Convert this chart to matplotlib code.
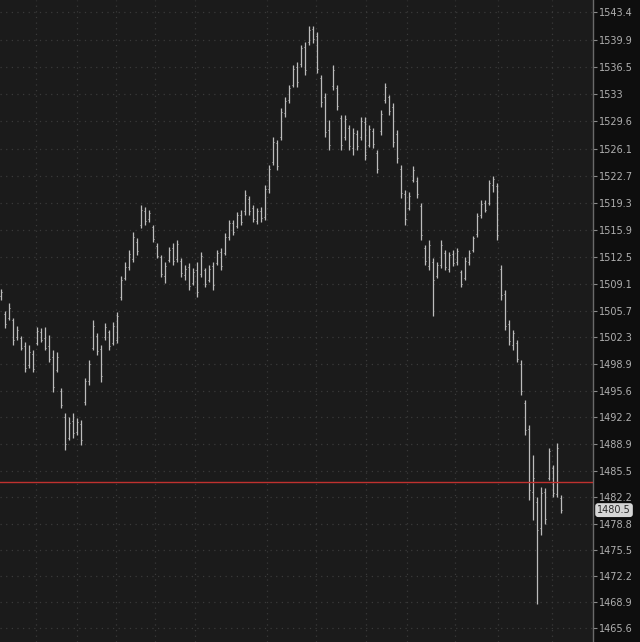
import matplotlib
matplotlib.use("Agg")
import matplotlib.pyplot as plt

# bar positions (one bar every 4 px of chart width)
bar_x = list(range(1, 562, 4))

highs = [1508.4, 1505.7, 1506.6, 1504.7, 1503.7, 1502.5, 1501.7, 1501.3, 1500.7, 1503.6,
         1503.5, 1503.6, 1502.6, 1500.7, 1500.4, 1495.9, 1492.7, 1492.2, 1492.7, 1492.1,
         1491.9, 1497.2, 1499.4, 1504.5, 1502.8, 1501.3, 1504.1, 1503.2, 1504.2, 1505.5,
         1510.0, 1511.8, 1513.3, 1515.6, 1514.8, 1519.0, 1518.8, 1518.4, 1516.5, 1514.2,
         1512.7, 1511.8, 1513.7, 1514.2, 1514.6, 1512.3, 1511.4, 1511.7, 1511.1, 1511.8,
         1513.1, 1511.1, 1511.4, 1511.8, 1513.3, 1513.6, 1515.5, 1517.1, 1517.1, 1518.1,
         1518.4, 1520.9, 1520.1, 1519.0, 1518.6, 1518.8, 1521.5, 1524.1, 1527.6, 1527.2,
         1531.3, 1532.6, 1534.2, 1536.7, 1537.1, 1539.2, 1539.6, 1541.6, 1541.6, 1540.9,
         1535.4, 1533.2, 1529.7, 1536.7, 1534.2, 1530.4, 1530.4, 1529.1, 1528.7, 1528.5,
         1530.1, 1530.1, 1529.1, 1528.7, 1526.0, 1531.0, 1534.4, 1532.9, 1531.9, 1528.5,
         1524.1, 1520.9, 1520.7, 1523.9, 1522.5, 1519.3, 1514.0, 1514.6, 1512.3, 1511.8,
         1514.6, 1513.3, 1513.1, 1513.3, 1513.6, 1510.8, 1512.4, 1513.3, 1515.1, 1518.0,
         1519.6, 1519.6, 1522.2, 1522.7, 1521.8, 1511.4, 1508.3, 1504.5, 1503.2, 1502.0,
         1499.4, 1494.4, 1491.2, 1487.4, 1482.1, 1483.4, 1483.3, 1488.4, 1486.2, 1489.0,
         1482.4]

lows = [1507.0, 1503.5, 1504.5, 1501.3, 1502.0, 1500.7, 1497.9, 1498.4, 1497.9, 1501.3,
        1501.7, 1500.7, 1499.2, 1495.4, 1497.9, 1493.4, 1488.1, 1489.3, 1489.6, 1490.0,
        1488.7, 1493.8, 1496.3, 1500.7, 1500.1, 1496.7, 1502.0, 1500.7, 1501.3, 1501.6,
        1507.0, 1509.5, 1510.8, 1511.8, 1512.7, 1516.1, 1516.5, 1516.9, 1514.3, 1512.3,
        1509.9, 1509.2, 1511.8, 1511.4, 1511.8, 1509.9, 1509.5, 1508.3, 1508.9, 1507.4,
        1509.9, 1508.7, 1509.3, 1508.3, 1511.4, 1510.8, 1512.7, 1514.6, 1515.2, 1516.1,
        1516.5, 1517.8, 1517.8, 1516.9, 1516.6, 1516.9, 1517.1, 1520.5, 1524.1, 1523.4,
        1527.2, 1530.1, 1531.9, 1533.9, 1533.9, 1536.4, 1535.4, 1539.2, 1539.5, 1535.7,
        1531.4, 1527.6, 1526.0, 1533.5, 1531.0, 1526.0, 1527.2, 1526.0, 1525.3, 1526.0,
        1527.2, 1524.7, 1526.3, 1526.2, 1523.1, 1527.9, 1531.9, 1530.4, 1526.3, 1524.3,
        1519.9, 1516.5, 1518.4, 1521.9, 1519.9, 1514.6, 1511.4, 1510.8, 1505.0, 1509.8,
        1511.1, 1510.8, 1510.6, 1511.3, 1511.4, 1508.7, 1509.5, 1511.4, 1513.1, 1515.0,
        1517.4, 1518.1, 1519.0, 1520.7, 1514.6, 1507.0, 1503.2, 1501.3, 1500.7, 1499.2,
        1495.0, 1490.0, 1481.8, 1479.2, 1468.6, 1477.3, 1478.8, 1484.3, 1482.1, 1482.1,
        1480.1]

opens = [1507.5, 1505.2, 1504.8, 1504.5, 1502.3, 1502.2, 1501.2, 1498.8, 1500.2, 1501.6,
         1503.0, 1502.2, 1501.2, 1499.8, 1498.2, 1495.5, 1492.3, 1489.6, 1491.8, 1490.4,
         1491.4, 1494.2, 1496.8, 1501.0, 1502.5, 1500.8, 1502.3, 1503.0, 1501.6, 1502.0,
         1507.4, 1509.8, 1511.2, 1512.2, 1514.4, 1516.5, 1518.2, 1517.2, 1516.2, 1513.9,
         1512.4, 1510.0, 1512.1, 1513.6, 1512.2, 1512.0, 1510.2, 1511.2, 1509.2, 1510.8,
         1510.3, 1510.8, 1509.6, 1511.3, 1511.7, 1513.1, 1513.0, 1515.0, 1516.8, 1516.4,
         1517.8, 1518.2, 1519.8, 1518.6, 1517.0, 1518.3, 1517.5, 1521.0, 1524.5, 1526.8,
         1527.6, 1530.6, 1532.3, 1534.2, 1536.4, 1536.8, 1539.0, 1539.6, 1541.2, 1540.4,
         1535.0, 1532.6, 1528.5, 1534.0, 1533.8, 1530.0, 1527.6, 1528.8, 1526.2, 1528.0,
         1527.6, 1529.5, 1526.6, 1528.3, 1525.6, 1528.3, 1532.3, 1532.6, 1531.4, 1528.0,
         1523.6, 1520.4, 1518.7, 1522.2, 1522.0, 1518.9, 1513.6, 1511.3, 1511.8, 1510.1,
         1511.5, 1512.9, 1511.0, 1512.8, 1511.8, 1510.5, 1509.8, 1511.8, 1513.4, 1515.3,
         1517.7, 1519.3, 1519.3, 1521.5, 1521.4, 1511.0, 1507.8, 1504.0, 1501.4, 1501.6,
         1499.0, 1494.0, 1490.8, 1482.8, 1481.5, 1478.2, 1482.8, 1484.6, 1485.8, 1482.5,
         1482.0]

closes = [1508.0, 1504.0, 1506.0, 1502.0, 1503.2, 1501.0, 1498.5, 1500.5, 1498.3, 1503.1,
          1502.0, 1501.0, 1499.6, 1496.0, 1499.8, 1493.8, 1488.8, 1491.5, 1490.2, 1491.6,
          1489.3, 1496.8, 1498.9, 1503.8, 1500.6, 1497.4, 1503.6, 1501.2, 1503.8, 1505.0,
          1509.6, 1511.2, 1512.8, 1515.0, 1513.2, 1518.4, 1517.0, 1518.0, 1514.7, 1512.6,
          1510.3, 1511.3, 1513.3, 1511.9, 1514.1, 1510.4, 1511.0, 1508.8, 1510.6, 1508.0,
          1512.6, 1509.1, 1511.0, 1508.9, 1512.9, 1511.3, 1515.0, 1516.7, 1515.6, 1517.7,
          1516.9, 1520.3, 1518.2, 1517.3, 1518.2, 1517.4, 1521.0, 1523.6, 1527.0, 1524.0,
          1530.8, 1532.2, 1533.8, 1536.2, 1534.5, 1538.8, 1536.0, 1541.1, 1540.0, 1536.2,
          1532.0, 1528.2, 1526.6, 1536.1, 1531.5, 1526.6, 1529.9, 1526.5, 1528.1, 1526.5,
          1529.6, 1525.3, 1528.6, 1526.7, 1523.6, 1530.5, 1533.9, 1530.9, 1527.0, 1524.9,
          1520.5, 1517.2, 1520.2, 1523.5, 1520.4, 1515.2, 1511.9, 1514.0, 1509.5, 1511.4,
          1514.0, 1511.2, 1512.7, 1511.7, 1513.2, 1509.1, 1512.0, 1512.9, 1514.8, 1517.6,
          1519.2, 1518.4, 1521.8, 1522.3, 1515.2, 1507.6, 1503.8, 1501.8, 1502.8, 1499.6,
          1495.6, 1490.6, 1483.0, 1484.5, 1478.0, 1482.6, 1479.4, 1487.9, 1482.6, 1488.3,
          1480.5]

# price scale labels on the right
price_ticks = [1543.4, 1539.9, 1536.5, 1533, 1529.6, 1526.1, 1522.7, 1519.3, 1515.9,
               1512.5, 1509.1, 1505.7, 1502.3, 1498.9, 1495.6, 1492.2, 1488.9, 1485.5,
               1482.2, 1478.8, 1475.5, 1472.2, 1468.9, 1465.6]
price_labels = ["1543.4", "1539.9", "1536.5", "1533", "1529.6", "1526.1", "1522.7",
                "1519.3", "1515.9", "1512.5", "1509.1", "1505.7", "1502.3", "1498.9",
                "1495.6", "1492.2", "1488.9", "1485.5", "1482.2", "1478.8", "1475.5",
                "1472.2", "1468.9", "1465.6"]

# session separators (vertical grid)
session_x = [36, 77, 116, 155, 195, 267, 316, 366, 407, 455, 498, 552]

ref_level = 1484.0
last_price = 1480.5

fig = plt.figure(figsize=(6.4, 6.42), dpi=100, facecolor="#0e0e0e")
ax = fig.add_axes([0, 0, 593 / 640, 1])
ax.set_facecolor("#1b1b1b")

ax.set_xlim(0, 593)
ax.set_ylim(1463.85, 1544.9)

# grid
for y in price_ticks:
    ax.axhline(y, color="#3a3a3a", lw=0.9, ls=(0, (1, 3.5)), zorder=0)
for x in session_x:
    ax.axvline(x, color="#3a3a3a", lw=0.9, ls=(0, (1, 3.5)), zorder=0)

# OHLC bars
bar_col = "#bcbcbc"
ax.vlines(bar_x, lows, highs, color=bar_col, lw=0.9, zorder=2)
ax.hlines(opens, [x - 1.2 for x in bar_x], bar_x, color=bar_col, lw=0.7, zorder=2)
ax.hlines(closes, bar_x, [x + 1.2 for x in bar_x], color=bar_col, lw=0.7, zorder=2)

# reference line
ax.axhline(ref_level, color="#c0312f", lw=1.0, zorder=3)

ax.set_xticks([])
ax.yaxis.tick_right()
ax.set_yticks(price_ticks)
ax.set_yticklabels(price_labels)
ax.tick_params(axis="y", colors="#8a8a8a", labelcolor="#b0b0b0", labelsize=7,
               length=3, width=0.8, pad=1)
for side in ["top", "left", "bottom"]:
    ax.spines[side].set_visible(False)
ax.spines["right"].set_color("#6a6a6a")
ax.spines["right"].set_linewidth(1.0)

# last price tag
ax.text(1.007, last_price, "%.1f" % last_price, transform=ax.get_yaxis_transform(),
        ha="left", va="center", fontsize=7, color="#2a2a2a", clip_on=False, zorder=5,
        bbox=dict(boxstyle="round,pad=0.2,rounding_size=0.3", facecolor="#d6d6d6",
                  edgecolor="none"))

fig.savefig("out.png", dpi=100, facecolor=fig.get_facecolor())
